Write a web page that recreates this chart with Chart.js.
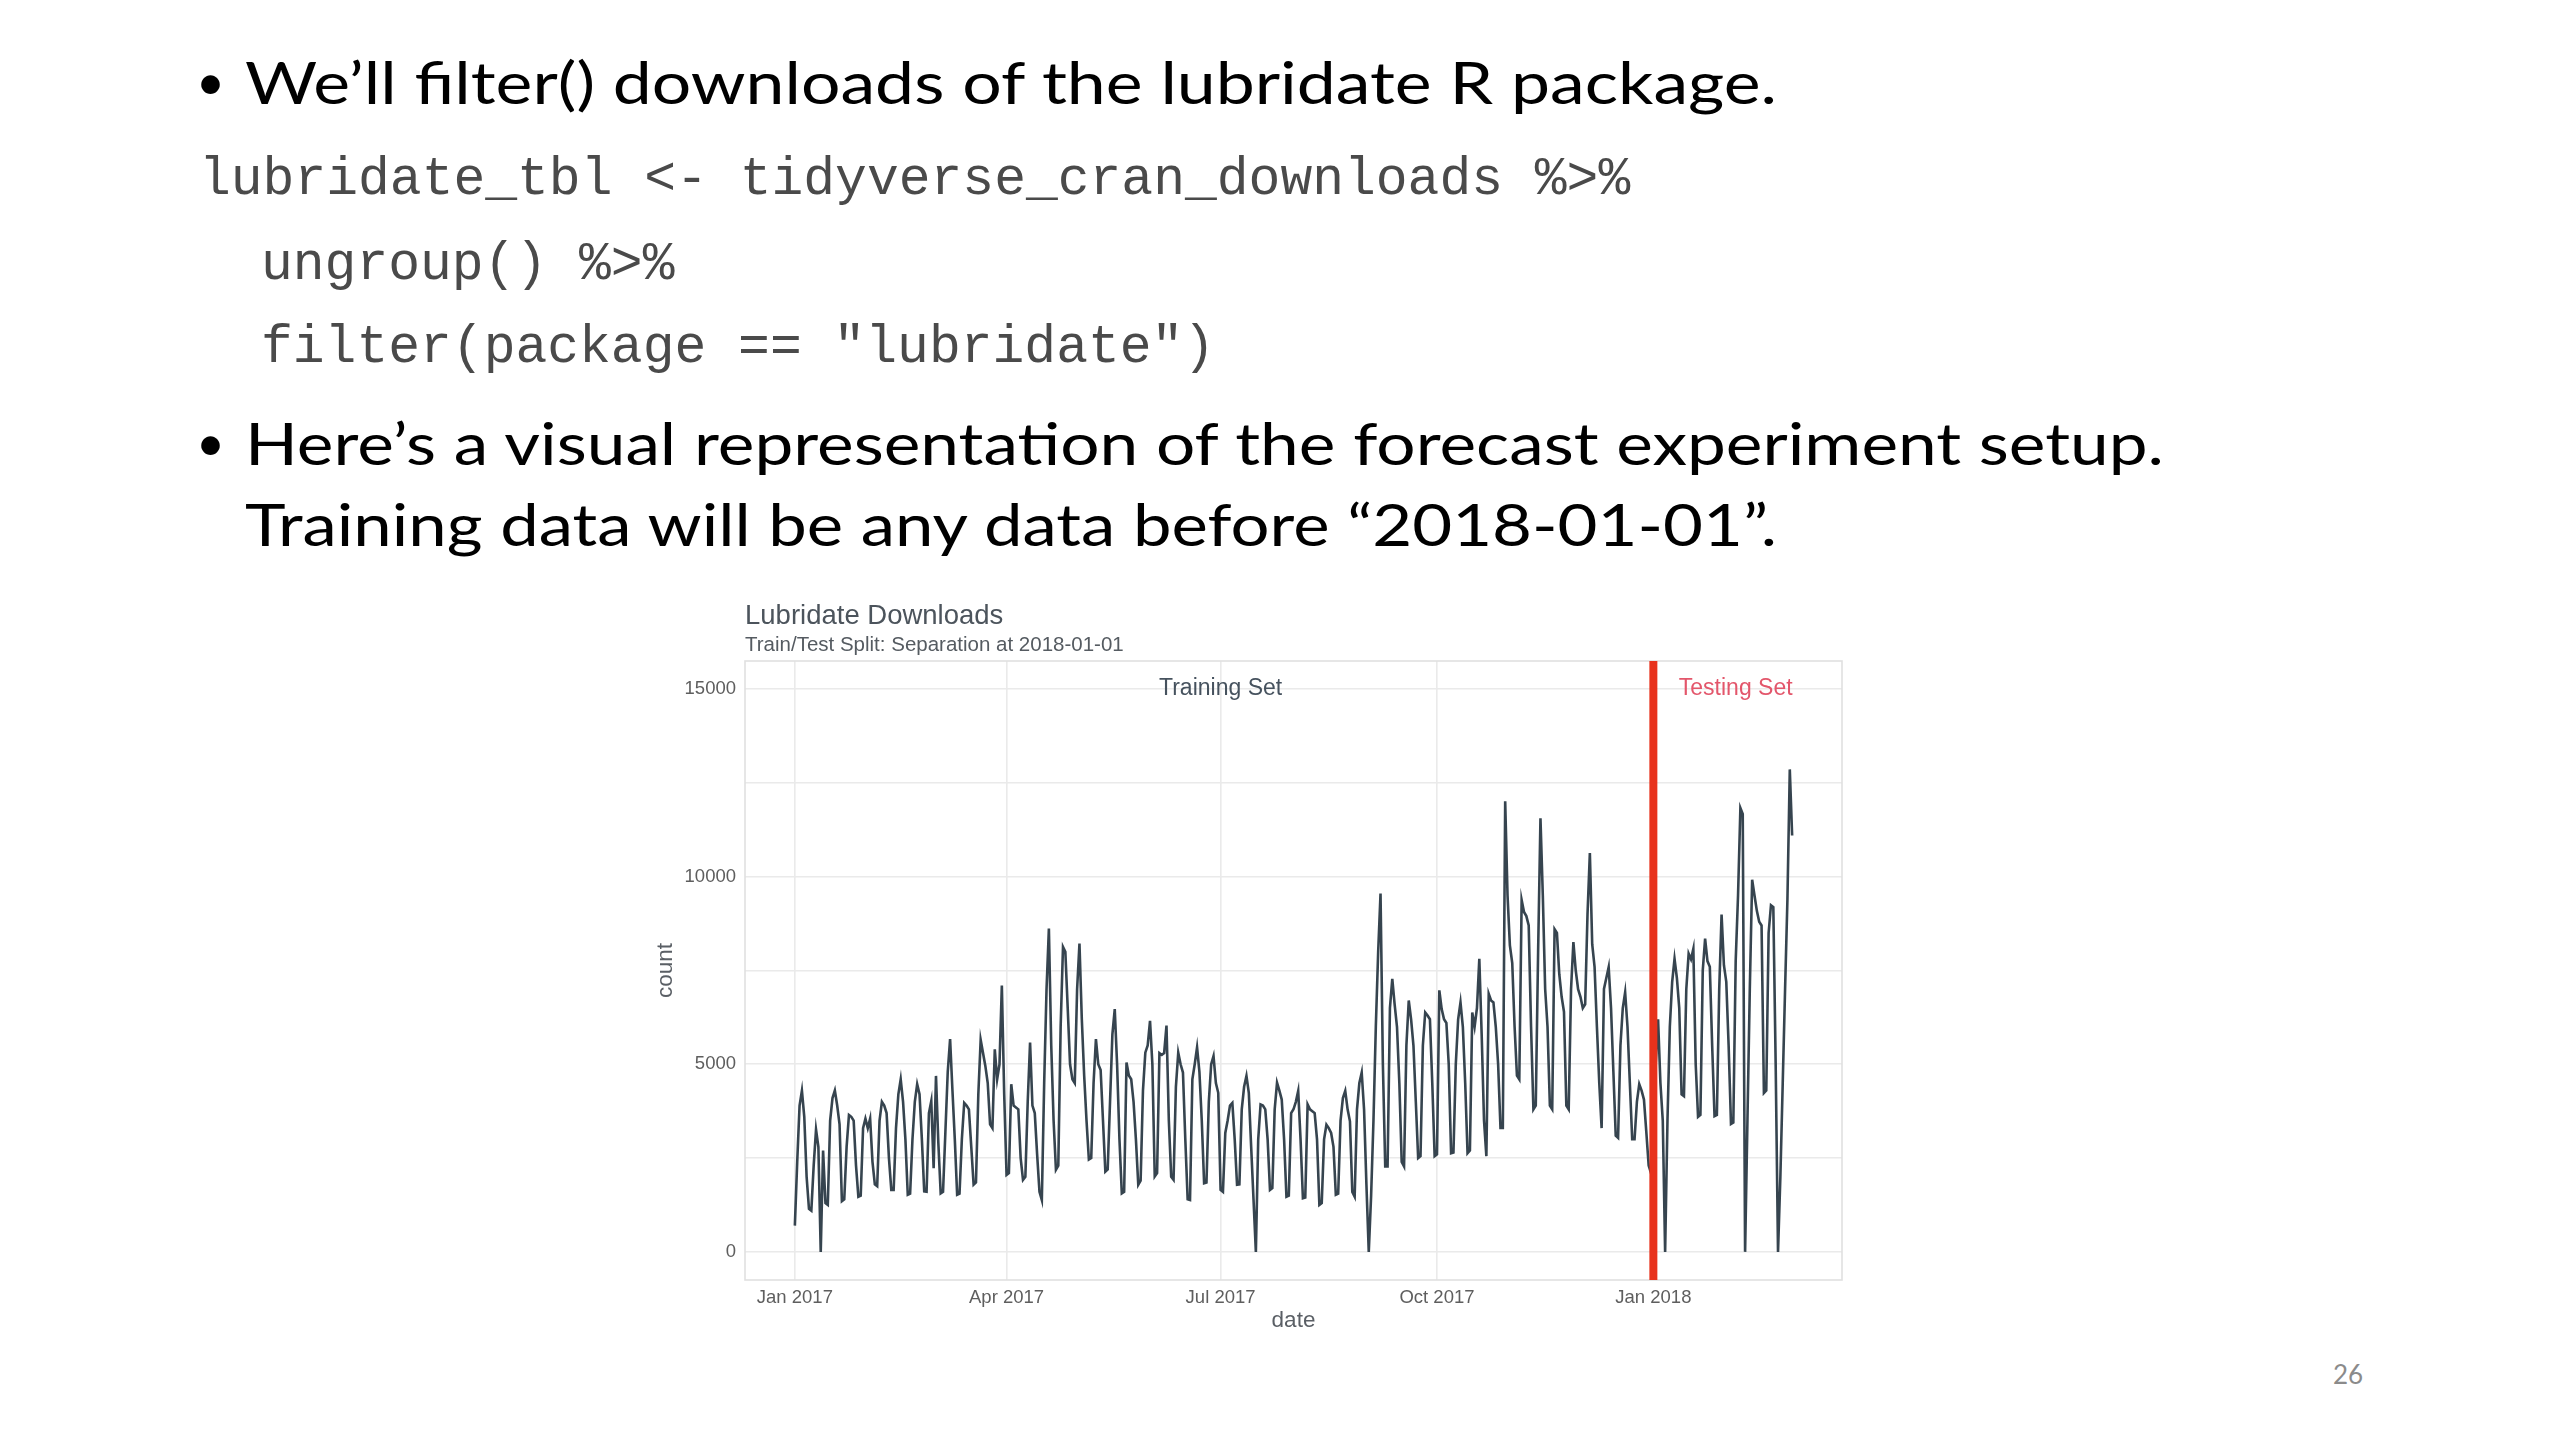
<!DOCTYPE html>
<html>
<head>
<meta charset="utf-8">
<script src="https://cdn.jsdelivr.net/npm/chart.js@4.4.1/dist/chart.umd.min.js"></script>
<style>
  html, body { margin: 0; padding: 0; background: #fff; }
  body { width: 2560px; height: 1440px; position: relative; overflow: hidden; }
  .t { position: absolute; white-space: nowrap; transform-origin: 0 50%; }
  .bul { font-family: Lato, "Open Sans", sans-serif; font-size: 59px; line-height: 71px; color: #000; }
  .dot { font-size: 50px; }
  .code { font-family: "Liberation Mono", monospace; font-size: 53px; line-height: 64px; color: #4a4a4a; }
  .page { font-family: Lato, sans-serif; font-size: 26px; line-height: 31px; color: #8b8b8b; width: 100px; text-align: center; }
  #wrap { position: absolute; left: 600px; top: 560px; width: 1300px; height: 800px; }
</style>
</head>
<body>
<div class="t bul dot" style="left:196px; top:46px;">•</div>
<div class="t bul fit" data-w="1532" style="left:245px; top:46px;">We’ll filter() downloads of the lubridate R package.</div>
<div class="t code" style="left:199px; top:148px;">lubridate_tbl &lt;- tidyverse_cran_downloads %&gt;%</div>
<div class="t code" style="left:261px; top:233px;">ungroup() %&gt;%</div>
<div class="t code" style="left:261px; top:316px;">filter(package == "lubridate")</div>
<div class="t bul dot" style="left:196px; top:407px;">•</div>
<div class="t bul fit" data-w="1919" style="left:245px; top:407px;">Here’s a visual representation of the forecast experiment setup.</div>
<div class="t bul fit" data-w="1532" style="left:245px; top:488px;">Training data will be any data before “2018-01-01”.</div>
<div class="t page" style="left:2298px; top:1359px;">26</div>

<div id="wrap"><canvas id="chart" width="1300" height="800"></canvas></div>

<script>
// daily lubridate downloads, 2017-01-01 .. 2018-03-01 (one row per week, Sun..Sat)
const counts = [
  700, 2400, 3900, 4300, 3600, 2000, 1150,
  1100, 2300, 3260, 2800, 0, 2700, 1300,
  1250, 3500, 4100, 4300, 3900, 3400, 1350,
  1400, 2800, 3650, 3600, 3500, 2300, 1470,
  1500, 3300, 3550, 3300, 3550, 2400, 1800,
  1750, 3500, 4000, 3900, 3700, 2500, 1650,
  1650, 3300, 4200, 4600, 4000, 3000, 1520,
  1550, 3000, 4000, 4470, 4200, 3000, 1610,
  1600, 3700, 4020, 2230, 4690, 2900, 1560,
  1600, 3200, 4800, 5670, 4300, 3000, 1520,
  1550, 3000, 3970, 3900, 3800, 2800, 1790,
  1850, 4200, 5650, 5300, 4950, 4500, 3400,
  3300, 5400, 4600, 5000, 7100, 4200, 2050,
  2100, 4470, 3900, 3850, 3800, 2500, 1920,
  2000, 4000, 5580, 3900, 3700, 2600, 1600,
  1380, 4500, 7000, 8620, 5500, 3500, 2190,
  2300, 6000, 8130, 8000, 6500, 5000, 4600,
  4500, 7000, 8220, 6200, 4700, 3500, 2460,
  2500, 4500, 5670, 5000, 4850, 3500, 2140,
  2200, 4000, 5800, 6470, 5000, 3000, 1560,
  1600, 5050, 4700, 4600, 4000, 3000, 1790,
  1900, 4300, 5310, 5500, 6160, 5000, 2010,
  2100, 5300, 5250, 5300, 6030, 3500, 2000,
  1920, 4400, 5310, 5000, 4780, 3000, 1400,
  1380, 4600, 5000, 5450, 4800, 3500, 1830,
  1850, 4000, 5000, 5220, 4500, 4240, 1650,
  1600, 3170, 3500, 3900, 3970, 3000, 1790,
  1800, 3800, 4400, 4690, 4240, 2800, 1400,
  0, 3000, 3930, 3900, 3800, 3000, 1650,
  1700, 3800, 4510, 4300, 4060, 3000, 1470,
  1500, 3700, 3800, 4000, 4290, 3000, 1430,
  1450, 3930, 3800, 3750, 3700, 3000, 1250,
  1300, 3000, 3390, 3300, 3170, 2800, 1520,
  1550, 3500, 4100, 4290, 3800, 3480, 1600,
  1470, 3800, 4500, 4780, 3800, 1800, 0,
  1500, 3500, 6000, 8000, 9550, 5000, 2280,
  2280, 6500, 7280, 6600, 6000, 4500, 2400,
  2280, 5500, 6700, 6200, 5500, 4000, 2500,
  2550, 5500, 6380, 6300, 6200, 4500, 2550,
  2600, 6970, 6470, 6200, 6100, 5000, 2630,
  2650, 5000, 6200, 6650, 6000, 4500, 2630,
  2700, 6380, 6000, 6500, 7810, 5800, 3500,
  2550, 6880, 6700, 6650, 6000, 5000, 3300,
  3300, 12010, 9500, 8170, 7700, 6000, 4700,
  4600, 9380, 9060, 8950, 8700, 6000, 3800,
  3900, 8000, 11560, 9500, 7000, 6000, 3900,
  3800, 8600, 8500, 7400, 6800, 6400, 3900,
  3800, 7000, 8260, 7500, 7000, 6800, 6500,
  6600, 9000, 10630, 8200, 7600, 6000, 4500,
  3300, 7010, 7300, 7590, 6500, 4800, 3100,
  3040, 5500, 6500, 6920, 6000, 4500, 3000,
  3000, 4000, 4470, 4300, 4060, 3200, 2300,
  2100, 2200, 5000, 6200, 4500, 3500, 0,
  3500, 6000, 7200, 7810, 7300, 6500, 4200,
  4150, 7000, 7950, 7800, 8080, 5000, 3600,
  3650, 7500, 8350, 7750, 7600, 5500, 3616,
  3650, 7000, 8990, 7640, 7200, 5500, 3410,
  3450, 7750, 9500, 11830, 11670, 0, 3500,
  7000, 9920, 9500, 9090, 8800, 8700, 4235,
  4300, 8500, 9240, 9190, 5000, 0, 2000,
  4500, 7000, 9400, 12860, 11100
];

// x axis is days since 2017-01-01
const xTickDays = [0, 90, 181, 273, 365];
const xTickLabels = ["Jan 2017", "Apr 2017", "Jul 2017", "Oct 2017", "Jan 2018"];
const yTickValues = [0, 2500, 5000, 7500, 10000, 12500, 15000];
const yTickLabels = ["0", "", "5000", "", "10000", "", "15000"];
const splitDay = 365;            // 2018-01-01
const setLabels = ["Training Set", "Testing Set"];
const setLabelDays = [181, 400];
const setLabelValue = 15000;

const SANS = "'Liberation Sans', Arial, sans-serif";

const decor = {
  id: "decor",
  beforeDatasetsDraw(chart) {
    const { ctx, chartArea: a } = chart;
    ctx.save();
    ctx.strokeStyle = "#e0e0e0";
    ctx.lineWidth = 1.6;
    ctx.strokeRect(a.left, a.top, a.right - a.left, a.bottom - a.top);
    ctx.restore();
  },
  afterDatasetsDraw(chart) {
    const { ctx, chartArea: a, scales: { x, y } } = chart;
    ctx.save();
    const sx = x.getPixelForValue(splitDay);
    ctx.strokeStyle = "#e8321c";
    ctx.lineWidth = 8;
    ctx.beginPath();
    ctx.moveTo(sx, a.top);
    ctx.lineTo(sx, a.bottom);
    ctx.stroke();

    ctx.font = "23px " + SANS;
    ctx.textAlign = "center";
    ctx.textBaseline = "middle";
    const ly = y.getPixelForValue(setLabelValue);
    ctx.fillStyle = "#46525e";
    ctx.fillText(setLabels[0], x.getPixelForValue(setLabelDays[0]), ly);
    ctx.fillStyle = "#e3566b";
    ctx.fillText(setLabels[1], x.getPixelForValue(setLabelDays[1]), ly);

    // titles
    ctx.textAlign = "left";
    ctx.fillStyle = "#4c545c";
    ctx.font = "27.5px " + SANS;
    ctx.fillText("Lubridate Downloads", a.left, a.top - 45);
    ctx.font = "20.5px " + SANS;
    ctx.fillStyle = "#555b61";
    ctx.fillText("Train/Test Split: Separation at 2018-01-01", a.left, a.top - 16);

    // axis titles
    ctx.font = "22.5px " + SANS;
    ctx.fillStyle = "#5a5f65";
    ctx.textAlign = "center";
    ctx.fillText("date", (a.left + a.right) / 2, a.bottom + 41);
    ctx.translate(a.left - 79, (a.top + a.bottom) / 2);
    ctx.rotate(-Math.PI / 2);
    ctx.fillText("count", 0, 0);
    ctx.restore();
  }
};

new Chart(document.getElementById("chart"), {
  type: "line",
  data: {
    datasets: [{
      data: counts.map((c, i) => ({ x: i, y: c })),
      borderColor: "#36444f",
      borderWidth: 2.6,
      pointRadius: 0,
      tension: 0,
      fill: false,
    }],
  },
  options: {
    responsive: false,
    devicePixelRatio: 1,
    animation: false,
    events: [],
    layout: { padding: { left: 0, top: 101, right: 58, bottom: 20 } },
    plugins: { legend: { display: false }, tooltip: { enabled: false }, title: { display: false } },
    scales: {
      x: {
        type: "linear",
        min: -21.2,
        max: 445.2,
        afterBuildTicks: (s) => { s.ticks = xTickDays.map((v) => ({ value: v })); },
        afterFit: (s) => { s.height = 60; },
        ticks: {
          autoSkip: false, maxRotation: 0, padding: 7,
          color: "#5e5e5e", font: { family: SANS, size: 18.5 },
          callback: (v, i) => xTickLabels[i],
        },
        grid: { color: "#eaeaea", lineWidth: 1.6, drawTicks: false },
        border: { display: false },
      },
      y: {
        min: -750,
        max: 15750,
        afterBuildTicks: (s) => { s.ticks = yTickValues.map((v) => ({ value: v })); },
        afterFit: (s) => { s.width = 145; },
        ticks: {
          autoSkip: false, padding: 9,
          color: "#5e5e5e", font: { family: SANS, size: 18.5 },
          callback: (v, i) => yTickLabels[i],
        },
        grid: { color: "#eaeaea", lineWidth: 1.6, drawTicks: false },
        border: { display: false },
      },
    },
  },
  plugins: [decor],
});

// squeeze slide text to the widths of the original Calibri lines
function fitText() {
  document.querySelectorAll(".fit").forEach((el) => {
    el.style.transform = "none";
    const w = el.getBoundingClientRect().width;
    el.style.transform = `scaleX(${Number(el.dataset.w) / w})`;
  });
}
if (document.fonts) document.fonts.ready.then(fitText); else fitText();
fitText();
</script>
</body>
</html>
